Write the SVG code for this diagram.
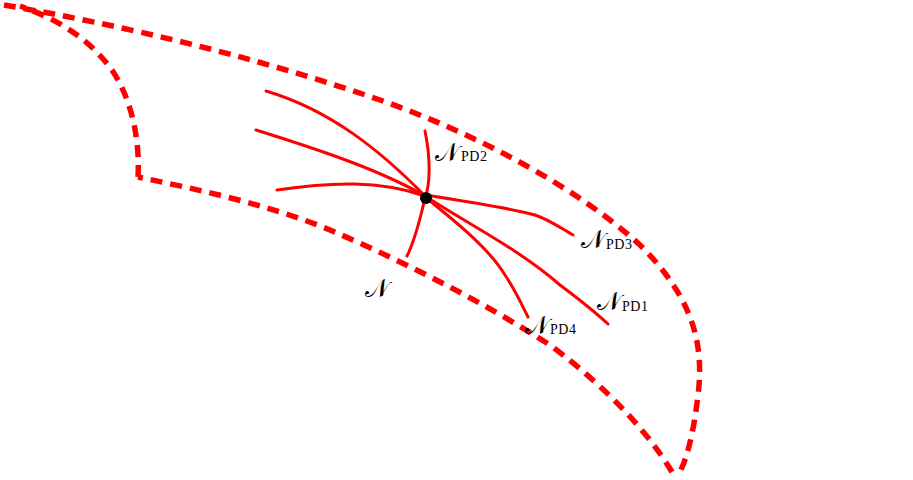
<svg xmlns="http://www.w3.org/2000/svg" width="913" height="480" viewBox="0 0 913 480">
<style>
.bound{fill:none;stroke:#ff0000;stroke-width:5.5;stroke-dasharray:12 8}
.curve{fill:none;stroke:#ff0000;stroke-width:3;stroke-linecap:round}
.n{font-family:"DejaVu Serif","Liberation Serif",serif;font-size:25px;fill:#000}
.sub{font-family:"Liberation Serif",serif;font-size:14px;letter-spacing:0.5px;fill:#000}
</style>
<rect width="913" height="480" fill="#fff"/>
<g id="region">
<path class="bound" d="M4,5 C120,25 250,55 380,100 C480,135 580,190 640,245 C690,295 705,340 698,395 C694,430 688,455 680,472"/>
<path class="bound" d="M672,472 C650,435 610,390 550,345 C480,300 400,260 330,230 C270,205 200,190 138,177"/>
<path class="bound" d="M138,177 C140,140 132,100 112,70 C90,40 60,20 20,6"/>
</g>
<g id="connectors">
<path class="curve" d="M266,91 C330,110 380,150 425,196"/>
<path class="curve" d="M256,130 C320,150 380,170 425,196"/>
<path class="curve" d="M277,190 C330,182 380,180 425,196"/>
<path class="curve" d="M425,131 C431,160 430,185 425,198 C420,220 415,240 407,256"/>
<path class="curve" d="M425,195 C470,202 510,208 535,215 C552,221 562,229 573,235"/>
<path class="curve" d="M425,196 C470,225 520,250 560,285 C580,300 595,312 608,324"/>
<path class="curve" d="M425,197 C460,225 490,250 505,275 C515,290 522,305 528,317"/>
</g>
<g id="center"><circle cx="426" cy="198" r="6" fill="#000"/></g>
<g id="label-N"><text class="n" x="365" y="297">𝒩</text></g>
<g id="label-PD2"><text class="n" x="435" y="161">𝒩</text><text class="sub" x="461" y="161">PD2</text></g>
<g id="label-PD3"><text class="n" x="581" y="248">𝒩</text><text class="sub" x="606" y="249">PD3</text></g>
<g id="label-PD1"><text class="n" x="597" y="310">𝒩</text><text class="sub" x="622" y="311">PD1</text></g>
<g id="label-PD4"><text class="n" x="525" y="334">𝒩</text><text class="sub" x="550" y="334">PD4</text></g>
</svg>
